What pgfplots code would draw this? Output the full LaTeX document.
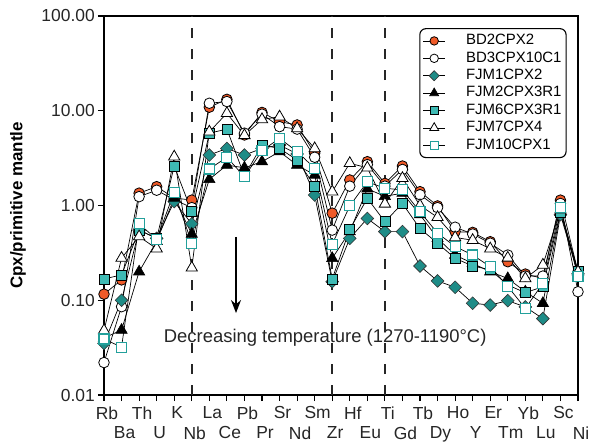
\documentclass[border=0pt]{standalone}
\usepackage{fontspec}
\setmainfont{Liberation Sans}
\usepackage{pgfplots}
\pgfplotsset{compat=1.18}
\usepackage{pgfplotstable}
\usetikzlibrary{arrows.meta}

\definecolor{myorange}{RGB}{240,90,40}
\definecolor{tealdark}{RGB}{30,140,135}
\definecolor{teallight}{RGB}{62,186,180}
\definecolor{tealedge}{RGB}{35,160,155}

\pgfplotstableread{
idx el BDa BDb FJMa FJMb FJMc FJMd FJMe
0 Rb 0.116 0.022 0.035 0.040 0.168 0.048 0.039
1 Ba 0.164 0.0855 0.10 0.0485 0.185 0.279 0.032
2 Th 1.35 1.24 0.55 0.20 0.55 0.47 0.64
3 U 1.58 1.45 0.45 0.42 0.45 0.35 0.44
4 K 1.20 1.15 1.10 1.20 2.61 3.27 1.38
5 Nb 1.14 0.95 0.64 0.50 0.86 0.22 0.40
6 La 10.9 12.0 3.41 1.89 5.8 6.0 2.43
7 Ce 13.2 12.5 4.0 2.67 6.4 9.4 3.23
8 Pb 5.55 5.8 3.41 2.5 2.05 5.5 2.01
9 Pr 9.6 9.2 4.0 2.9 4.35 8.1 3.78
10 Sr 7.67 6.8 4.35 3.7 4.0 8.65 5.12
11 Nd 7.08 6.4 3.5 2.67 3.02 6.5 3.7
12 Sm 3.56 3.23 1.29 2.1 1.61 4.0 2.47
13 Zr 0.83 0.55 0.157 0.277 0.168 1.4 0.39
14 Hf 1.86 1.6 0.45 0.53 0.56 2.79 0.99
15 Eu 2.9 2.7 0.73 1.5 1.19 2.5 1.78
16 Ti 1.71 1.6 0.53 1.25 0.675 1.04 1.52
17 Gd 2.61 2.4 0.53 1.35 1.05 1.94 1.46
18 Tb 1.40 1.3 0.23 0.8 0.57 1.0 0.86
19 Dy 0.99 0.95 0.16 0.45 0.40 0.75 0.51
20 Ho 0.53 0.59 0.137 0.30 0.277 0.46 0.37
21 Y 0.52 0.5 0.093 0.245 0.23 0.43 0.30
22 Er 0.415 0.4 0.089 0.20 0.21 0.35 0.226
23 Tm 0.255 0.30 0.099 0.17 0.145 0.28 0.14
24 Yb 0.189 0.18 0.085 0.123 0.12 0.17 0.082
25 Lu 0.17 0.18 0.064 0.093 0.139 0.236 0.151
26 Sc 1.14 1.05 0.80 0.85 0.85 0.9 0.95
27 Ni 0.20 0.123 0.19 0.20 0.20 0.2 0.177
}\datatable

\begin{document}
\begin{tikzpicture}
\useasboundingbox (-104bp,-49bp) rectangle (486bp,395bp);
\begin{axis}[
  at={(0,0)}, anchor=south west,
  scale only axis, width=474bp, height=379bp,
  ymode=log, ymin=0.01, ymax=100,
  xmin=0, xmax=27,
  clip=false,
  ytick={0.01,0.1,1,10,100},
  yticklabels={0.01,0.10,1.00,10.00,100.00},
  yminorticks=false,
  xtick={0,2,...,26},
  xticklabels={Rb,Th,K,La,Pb,Sr,Sm,Hf,Ti,Tb,Ho,Er,Yb,Sc},
  extra x ticks={1,3,...,27},
  extra x tick labels={Ba,U,Nb,Ce,Pr,Nd,Zr,Eu,Gd,Dy,Y,Tm,Lu,Ni},
  extra x tick style={xticklabel style={yshift=-20bp}},
  xtick pos=bottom, ytick pos=left,
  tick align=outside,
  major tick length=6bp,
  every tick/.style={black, line width=1.2bp},
  axis line style={line width=1.5bp},
  tick label style={font=\fontsize{17.5}{18}\selectfont, text=black!85},
  xticklabel style={xshift=3bp, yshift=-2bp},
  yticklabel style={inner xsep=3bp},
  ylabel={Cpx/primitive mantle},
  every axis y label/.style={at={(axis description cs:0,0.5)}, xshift=-86bp, rotate=90, anchor=center, font=\fontsize{17}{18}\selectfont\bfseries},
  legend style={at={(0.976,0.968)}, anchor=north east, draw=black, line width=1.1bp, rounded corners=6bp,
    font=\fontsize{15}{15}\selectfont, inner xsep=3bp, inner ysep=4bp, row sep=0.9bp, column sep=19bp,
    nodes={inner sep=1.5bp, text height=10.5bp, text depth=3bp}},
  legend cell align=left,
  legend image code/.code={\draw[mark repeat=2,mark phase=2,#1, every mark/.append style={scale=0.8}] plot coordinates {(0bp,0bp) (11bp,0bp) (22bp,0bp)};},
]
\draw[black!85, line width=2.2bp, dash pattern=on 10bp off 11bp] (axis cs:5,0.01) -- (axis cs:5,100);
\draw[black!85, line width=2.2bp, dash pattern=on 10bp off 11bp] (axis cs:13,0.01) -- (axis cs:13,100);
\draw[black!85, line width=2.2bp, dash pattern=on 10bp off 11bp] (axis cs:16,0.01) -- (axis cs:16,100);

\addplot[black, line width=0.7bp, mark=*, mark size=5.3bp, mark options={fill=myorange, draw=black, line width=0.8bp}] table[x=idx, y=BDa] {\datatable};
\addlegendentry{BD2CPX2}
\addplot[black, line width=0.7bp, mark=*, mark size=5.3bp, mark options={fill=white, draw=black, line width=0.8bp}] table[x=idx, y=BDb] {\datatable};
\addlegendentry{BD3CPX10C1}
\addplot[black, line width=0.7bp, mark=square*, mark size=4.5bp, mark options={rotate=45, fill=tealdark, draw=black!80, line width=0.6bp}] table[x=idx, y=FJMa] {\datatable};
\addlegendentry{FJM1CPX2}
\addplot[black, line width=0.7bp, mark=triangle*, mark size=6.5bp, mark options={fill=black, draw=black, line width=0.6bp}] table[x=idx, y=FJMb] {\datatable};
\addlegendentry{FJM2CPX3R1}
\addplot[black, line width=0.7bp, mark=square*, mark size=5bp, mark options={fill=teallight, draw=black, line width=0.7bp}] table[x=idx, y=FJMc] {\datatable};
\addlegendentry{FJM6CPX3R1}
\addplot[black, line width=0.7bp, mark=triangle*, mark size=6.5bp, mark options={fill=white, draw=black, line width=0.8bp}] table[x=idx, y=FJMd] {\datatable};
\addlegendentry{FJM7CPX4}
\addplot[black, line width=0.7bp, mark=square*, mark size=5bp, mark options={fill=white, draw=tealedge, line width=1.1bp}] table[x=idx, y=FJMe] {\datatable};
\addlegendentry{FJM10CPX1}

\draw[black, line width=1.3bp, -{Stealth[length=13bp, width=10bp]}] (axis cs:7.52,0.466) -- (axis cs:7.52,0.0733);
\node[font=\fontsize{18.5}{19}\selectfont, text=black!85] at (axis cs:12.6,0.04) {Decreasing temperature (1270-1190°C)};
\end{axis}
\end{tikzpicture}
\end{document}
